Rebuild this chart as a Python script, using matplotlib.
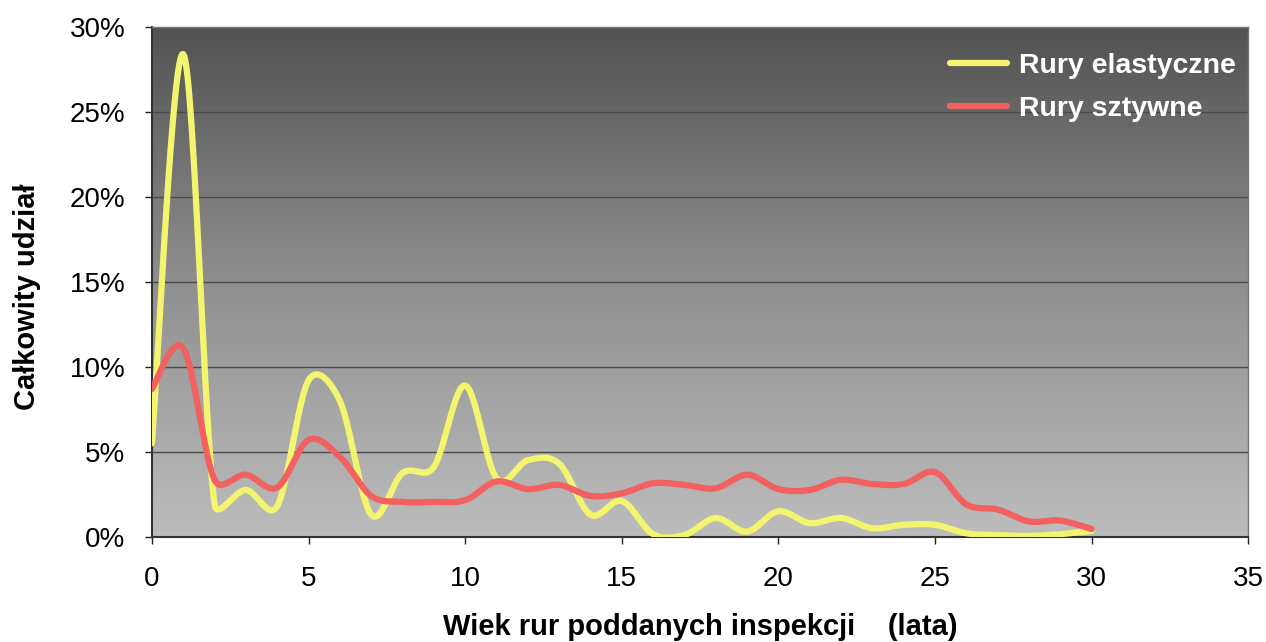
import numpy as np
import matplotlib
matplotlib.use("Agg")
import matplotlib.pyplot as plt
from matplotlib.colors import LinearSegmentedColormap

plt.rcParams['font.family'] = ['Liberation Sans', 'DejaVu Sans']

# Age of inspected pipes (years) and share of inspections (%)
ages = list(range(0, 31))
elastic = [5.5, 28.4, 1.9, 2.75, 1.8, 9.2, 8.0, 1.3, 3.75, 4.1, 8.9, 3.45, 4.5, 4.3, 1.3,
           2.1, 0.15, 0.1, 1.1, 0.3, 1.5, 0.8, 1.1, 0.5, 0.7, 0.7, 0.2, 0.1, 0.05, 0.15, 0.35]
rigid = [8.7, 11.1, 3.35, 3.65, 2.9, 5.7, 4.7, 2.4, 2.05, 2.05, 2.15, 3.25, 2.8, 3.05, 2.4,
         2.55, 3.15, 3.05, 2.85, 3.65, 2.8, 2.75, 3.35, 3.1, 3.1, 3.8, 1.9, 1.6, 0.9, 0.95, 0.45]

series_names = ["Rury elastyczne", "Rury sztywne"]
series_colors = ["#f4f56e", "#f2605f"]
x_ticks = [0, 5, 10, 15, 20, 25, 30, 35]
y_ticks = [0, 5, 10, 15, 20, 25, 30]


def smooth(xs, ys, sx=1.0, sy=1.0, n=30):
    """Smoothed line through the points: Catmull-Rom style Bezier handles
    (1/6 of the neighbour chord), each capped at half of its own segment."""
    P = np.column_stack([np.asarray(xs, float) * sx, np.asarray(ys, float) * sy])
    m = len(P)
    ctrl_out, ctrl_in = [], []
    for i in range(m):
        p_prev = P[max(i - 1, 0)]
        p_next = P[min(i + 1, m - 1)]
        d = p_next - p_prev
        nd = np.linalg.norm(d)
        if nd == 0:
            ctrl_out.append(P[i].copy())
            ctrl_in.append(P[i].copy())
            continue
        u = d / nd
        l_prev = np.linalg.norm(P[i] - p_prev)
        l_next = np.linalg.norm(p_next - P[i])
        ctrl_out.append(P[i] + u * min(nd / 6.0, l_next / 2.0))
        ctrl_in.append(P[i] - u * min(nd / 6.0, l_prev / 2.0))
    pts = []
    t = np.linspace(0, 1, n, endpoint=False)[:, None]
    for i in range(m - 1):
        p1, b1, b2, p2 = P[i], ctrl_out[i], ctrl_in[i + 1], P[i + 1]
        seg = ((1 - t) ** 3) * p1 + 3 * ((1 - t) ** 2) * t * b1 + 3 * (1 - t) * t ** 2 * b2 + t ** 3 * p2
        pts.append(seg)
    pts.append(P[-1:])
    pts = np.vstack(pts)
    return pts[:, 0] / sx, pts[:, 1] / sy


fig = plt.figure(figsize=(12.66, 6.42), dpi=100, facecolor="white")
ax = fig.add_axes([0.120, 0.164, 0.866, 0.794])

# vertical gray gradient background
cmap = LinearSegmentedColormap.from_list("bg", ["#bdbdbd", "#8f8f8f", "#525252"])
grad = np.linspace(0, 1, 256).reshape(-1, 1)
ax.imshow(grad, cmap=cmap, aspect="auto", extent=[0, 1, 0, 1], origin="lower",
          transform=ax.transAxes, zorder=0)

for y in y_ticks[1:-1]:
    ax.axhline(y, color="#4a4a4a", lw=1.0, zorder=1)

ax.set_xlim(0, 35)
ax.set_ylim(0, 30)
px_x = 1096 / 35.0
px_y = 510 / 30.0

for vals, name, col in zip([elastic, rigid], series_names, series_colors):
    lx, ly = smooth(ages, vals, px_x, px_y)
    ax.plot(lx, ly, color=col, lw=4.5, label=name, zorder=3, solid_capstyle="round")

ax.set_xticks(x_ticks)
ax.set_yticks(y_ticks)
ax.set_yticklabels([f"{v}%" for v in y_ticks])
ax.tick_params(axis="both", labelsize=20, colors="#222222", direction="out",
               length=5, width=1, labelcolor="black")
ax.tick_params(axis="x", pad=16)
ax.tick_params(axis="y", pad=14)

for side in ["left", "bottom"]:
    ax.spines[side].set_color("#333333")
    ax.spines[side].set_linewidth(1.5)
for side in ["top", "right"]:
    ax.spines[side].set_color("#777777")
    ax.spines[side].set_linewidth(1.0)

ax.set_xlabel("Wiek rur poddanych inspekcji    (lata)", fontsize=21, fontweight="bold",
              labelpad=15)
ax.set_ylabel("Całkowity udział", fontsize=21, fontweight="bold", labelpad=20)
ax.yaxis.set_label_coords(-0.101, 0.47)

leg = ax.legend(loc="upper right", frameon=False, fontsize=20.5, handlelength=2.0,
                handletextpad=0.4, labelspacing=0.62, borderaxespad=0.2,
                bbox_to_anchor=(1.004, 0.983))
for txt in leg.get_texts():
    txt.set_color("white")
    txt.set_fontweight("bold")

fig.savefig("out.png", dpi=100, facecolor="white")
